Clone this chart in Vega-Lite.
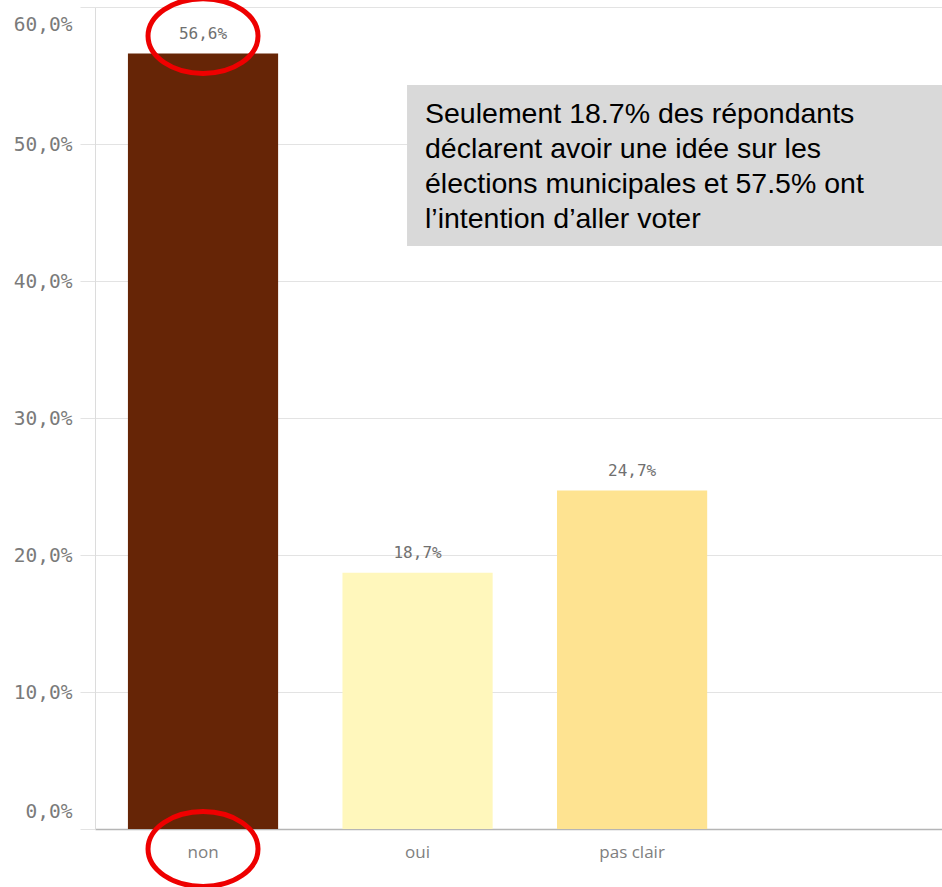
{
  "$schema": "https://vega.github.io/schema/vega-lite/v6.json",
  "width": 847,
  "height": 822,
  "autosize": "none",
  "padding": {"left": 95, "top": 7, "right": 0, "bottom": 58},
  "config": {
    "view": {"stroke": null},
    "locale": {"number": {"decimal": ",", "thousands": " ", "grouping": [3], "currency": ["", " €"]}}
  },
  "resolve": {"scale": {"x": "independent"}, "axis": {"x": "independent"}},
  "layer": [
    {
      "data": {"values": [
        {"cat": "non", "share": 0.566},
        {"cat": "oui", "share": 0.187},
        {"cat": "pas clair", "share": 0.247}
      ]},
      "encoding": {
        "x": {
          "field": "cat", "type": "nominal", "sort": null,
          "scale": {"domain": ["non", "oui", "pas clair"], "paddingInner": 0.3, "paddingOuter": 0.624, "align": 0.123},
          "axis": {"title": null, "ticks": false, "labelAngle": 0, "labelFont": "Open Sans", "labelFontSize": 17, "labelColor": "#808080", "labelPadding": 15, "domainColor": "#b5b5b5", "domainWidth": 1.5}
        },
        "y": {
          "field": "share", "type": "quantitative",
          "scale": {"domain": [0, 0.6], "nice": false},
          "axis": {"title": null, "format": ".1%", "values": [0, 0.1, 0.2, 0.3, 0.4, 0.5, 0.6], "labelFont": "DejaVu Sans Mono", "labelFontSize": 19.5, "labelColor": "#7a7a7a", "labelPadding": 8, "tickSize": 15, "tickColor": "#e3e3e3", "gridColor": "#e3e3e3", "domainColor": "#dcdcdc", "labelFlush": true, "labelFlushOffset": -8}
        }
      },
      "layer": [
        {
          "mark": {"type": "bar"},
          "encoding": {
            "color": {"field": "cat", "type": "nominal", "scale": {"domain": ["non", "oui", "pas clair"], "range": ["#662506", "#fff7bc", "#fee391"]}, "legend": null}
          }
        },
        {
          "mark": {"type": "text", "baseline": "bottom", "dy": -12, "font": "DejaVu Sans Mono", "fontSize": 16, "color": "#707070"},
          "encoding": {"text": {"field": "share", "type": "quantitative", "format": ".1%"}}
        },
        {
          "data": {"values": [
            {"cat": "non", "pos": 0.5788},
            {"cat": "non", "pos": -0.0146}
          ]},
          "mark": {"type": "point", "filled": false, "opacity": 1, "stroke": "#ee0000", "strokeWidth": 5, "size": 12100, "shape": "M-1,0A1,0.68,0,1,0,1,0A1,0.68,0,1,0,-1,0Z"},
          "encoding": {
            "y": {"field": "pos", "type": "quantitative", "scale": {"domain": [0, 0.6], "nice": false}}
          }
        }
      ]
    },
    {
      "data": {"values": [
        {"x0": 0.3684, "x1": 1.0, "y0": 0.4255, "y1": 0.5431, "tx": 0.3896, "ty": 0.5153, "note": "Seulement 18.7% des répondants\ndéclarent avoir une idée sur les\nélections municipales et 57.5% ont\nl’intention d’aller voter"}
      ]},
      "layer": [
        {
          "mark": {"type": "rect", "color": "#d9d9d9"},
          "encoding": {
            "x": {"field": "x0", "type": "quantitative", "scale": {"domain": [0, 1], "nice": false, "zero": false}, "axis": null},
            "x2": {"field": "x1"},
            "y": {"field": "y0", "type": "quantitative", "scale": {"domain": [0, 0.6], "nice": false}},
            "y2": {"field": "y1"}
          }
        },
        {
          "mark": {"type": "text", "align": "left", "baseline": "alphabetic", "font": "Liberation Sans", "fontSize": 28.5, "lineHeight": 35, "lineBreak": "\n", "color": "#000000"},
          "encoding": {
            "x": {"field": "tx", "type": "quantitative", "scale": {"domain": [0, 1], "nice": false, "zero": false}, "axis": null},
            "y": {"field": "ty", "type": "quantitative", "scale": {"domain": [0, 0.6], "nice": false}},
            "text": {"field": "note"}
          }
        }
      ]
    }
  ]
}
